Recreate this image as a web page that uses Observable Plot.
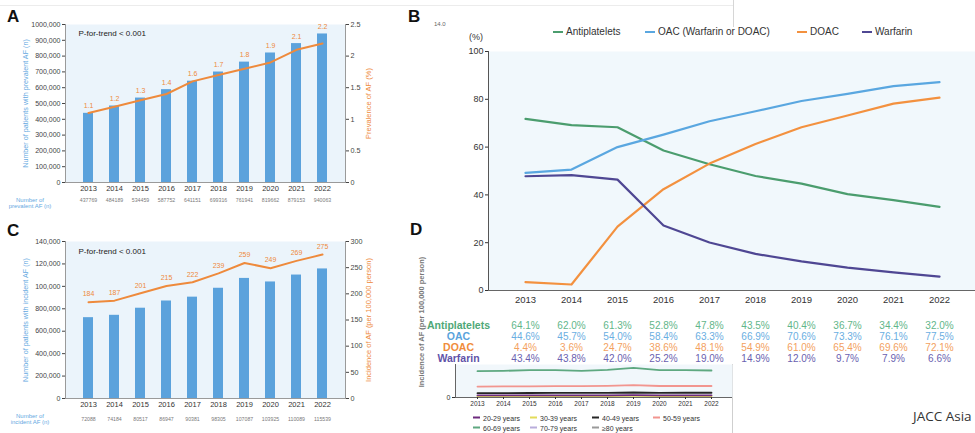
<!DOCTYPE html>
<html><head><meta charset="utf-8">
<script src="https://cdn.jsdelivr.net/npm/d3@7"></script>
<script src="https://cdn.jsdelivr.net/npm/@observablehq/plot@0.6"></script>
<style>
html,body{margin:0;padding:0;background:#fff;}
#root{position:relative;width:975px;height:433px;overflow:hidden;font-family:"Liberation Sans",Arial,Helvetica,sans-serif;background:#fff;}
#root svg{display:block;}
</style></head><body><div id="root"></div>
<script>
// ---------- data ----------
const years = ["2013","2014","2015","2016","2017","2018","2019","2020","2021","2022"];

// Panel A: prevalent AF
const prevalentCounts = [437769,484189,534459,587752,641151,699316,761941,819662,879153,940063];
const prevalencePct = [1.1,1.2,1.3,1.4,1.6,1.7,1.8,1.9,2.1,2.2];
const prevLeftTicks = [0,100000,200000,300000,400000,500000,600000,700000,800000,900000,1000000];
const prevLeftLabels = ["0","100,000","200,000","300,000","400,000","500,000","600,000","700,000","800,000","900,000","1000,000"];
const prevRightTicks = [0,0.5,1,1.5,2,2.5];
const prevRightLabels = ["0","0.5","1","1.5","2","2.5"];

// Panel C: incident AF
const incidentCounts = [72088,74184,80517,86947,90381,98305,107087,103925,110089,115539];
const incidenceRate = [184,187,201,215,222,239,259,249,263,275];
const incidenceLabels = ["184","187","201","215","222","239","259","249","269","275"];
const incLeftTicks = [0,20000,40000,60000,80000,100000,120000,140000];
const incLeftLabels = ["0","200,000","400,000","600,000","800,000","100,000","120,000","140,000"];
const incRightTicks = [0,50,100,150,200,250,300];
const incRightLabels = ["0","50","100","150","200","250","300"];

// Panel B: drug use (%)
const drugNames = ["Antiplatelets","OAC (Warfarin or DOAC)","DOAC","Warfarin"];
const antiplatelets = [71.8,69.2,68.3,58.6,52.8,47.9,44.7,40.3,37.8,35.0];
const oac = [49.2,50.6,60.0,65.2,70.8,75.0,79.3,82.3,85.5,87.2];
const doac = [3.5,2.5,26.7,42.4,53.1,61.3,68.3,73.2,78.2,80.7];
const warfarin = [47.8,48.3,46.4,27.2,20.1,15.3,12.2,9.6,7.6,5.8];
const drugColors = ["#4b9d6e","#5aa7e0","#f3913f","#4f4793"];

// Table under panel B
const tableRows = ["Antiplatelets","OAC","DOAC","Warfarin"];
const tAntiplatelets = ["64.1%","62.0%","61.3%","52.8%","47.8%","43.5%","40.4%","36.7%","34.4%","32.0%"];
const tOac = ["44.6%","45.7%","54.0%","58.4%","63.3%","66.9%","70.6%","73.3%","76.1%","77.5%"];
const tDoac = ["4.4%","3.6%","24.7%","38.6%","48.1%","54.9%","61.0%","65.4%","69.6%","72.1%"];
const tWarfarin = ["43.4%","43.8%","42.0%","25.2%","19.0%","14.9%","12.0%","9.7%","7.9%","6.6%"];
const tableLabelColors = ["#4fa877","#5aa3dc","#f08c3c","#6152a8"];
const tableValueColors = ["#62b68a","#6aaee2","#f3a160","#6a5fb0"];

// Panel D (partly hidden): incidence by age group
const ageGroups = ["20-29 years","30-39 years","40-49 years","50-59 years","60-69 years","70-79 years","≥80 years"];
const ageColors = ["#6e2b7e","#e3dc5a","#262626","#f2958f","#5ea880","#b9addb","#9a9a9a"];
const inc3039 = [22,22,23,23,23,24,25,24,24,24];
const inc2029 = [33,33,34,34,34,35,37,35,35,35];
const inc4049 = [70,70,72,73,74,75,80,75,76,76];
const inc5059 = [175,178,180,182,183,187,200,185,185,185];
const inc6069 = [423,428,439,439,428,444,476,439,439,434];

// ---------- helpers ----------
const FONT = '"Liberation Sans", Arial, Helvetica, sans-serif';
const root = document.getElementById("root");
const baseStyle = {background: "transparent", fontFamily: FONT, overflow: "visible"};
function place(node, left, top) {
  const d = document.createElement("div");
  d.style.cssText = `position:absolute;left:${left}px;top:${top}px;`;
  d.appendChild(node);
  root.appendChild(d);
  return d;
}
function htmlText(txt, left, top, css) {
  const d = document.createElement("div");
  d.textContent = txt;
  d.style.cssText = `position:absolute;white-space:nowrap;left:${left}px;top:${top}px;line-height:1;` + css;
  root.appendChild(d);
  return d;
}
function hline(left, top, width, color, thick = 1) {
  const d = document.createElement("div");
  d.style.cssText = `position:absolute;left:${left}px;top:${top}px;width:${width}px;height:${thick}px;background:${color};`;
  root.appendChild(d);
}
function vline(left, top, height, color) {
  const d = document.createElement("div");
  d.style.cssText = `position:absolute;left:${left}px;top:${top}px;width:1px;height:${height}px;background:${color};`;
  root.appendChild(d);
}
function legendItem(left, cy, color, label, fontSize, swW, gap, lw) {
  const d = document.createElement("div");
  d.style.cssText = `position:absolute;left:${left}px;top:${cy}px;transform:translateY(-50%);display:flex;align-items:center;white-space:nowrap;font-size:${fontSize}px;color:#333;line-height:1;`;
  const s = document.createElement("span");
  s.style.cssText = `display:inline-block;width:${swW}px;height:${lw}px;background:${color};margin-right:${gap}px;`;
  const t = document.createElement("span");
  t.textContent = label;
  d.appendChild(s); d.appendChild(t);
  root.appendChild(d);
}

const barBlue = "#5ba2dc", bgBlue = "#ebf4fb", orange = "#ee8a3c", axisGray = "#9a9a9a", tickGray = "#444", titleBlue = "#64a9df";

// ---------- decorative background lines ----------
hline(0, 5, 733, "#ececec");
vline(733, 0, 27, "#d6d6d6");
vline(732, 364, 69, "#cfcfcf");

// ---------- Panel D (behind) ----------
const dSeries = [
  {age: ageGroups[1], values: inc3039},
  {age: ageGroups[0], values: inc2029},
  {age: ageGroups[2], values: inc4049},
  {age: ageGroups[3], values: inc5059},
  {age: ageGroups[4], values: inc6069}
];
const dData = dSeries.flatMap(s => years.map((year, i) => ({age: s.age, year, v: s.values[i]})));
const ageColor = a => ageColors[ageGroups.indexOf(a)];
const plotD = Plot.plot({
  width: 332, height: 69, marginLeft: 55, marginRight: 0, marginTop: 0, marginBottom: 36,
  style: baseStyle,
  x: {type: "point", domain: years, padding: 0.72},
  y: {domain: [0, 530]},
  marks: [
    Plot.frame({fill: "#f1f7fb", stroke: null}),
    Plot.lineY(dData, {x: "year", y: "v", z: "age", stroke: d => ageColor(d.age), strokeWidth: 1.8}),
    Plot.frame({anchor: "left", stroke: "#666"}),
    Plot.ruleY([0], {stroke: "#666"}),
    Plot.axisY({ticks: [0], tickSize: 3, tickPadding: 2, fontSize: 7, color: "#333", label: null}),
    Plot.axisX({tickSize: 2, tickPadding: 2, fontSize: 6.5, color: "#333", label: null})
  ]
});
place(plotD, 400, 364);

// Panel D legend
const dLegendPos = [[473,417.5],[530,417.5],[592,417.5],[653,417.5],[473,427.7],[530,427.7],[592,427.7]];
ageGroups.forEach((a, i) => legendItem(dLegendPos[i][0], dLegendPos[i][1], ageColors[i], a, 7, 7, 3, 2));

// Panel D rotated y title (mostly hidden in the original)
const dTitle = htmlText("Incidence of AF (per 100,000 person)", 421.7 - 80, 322 - 5,
  "width:160px;height:10px;text-align:center;font-size:7.5px;font-weight:bold;color:#777;transform:rotate(-90deg);transform-origin:50% 50%;line-height:10px;");
htmlText("D", 410, 221, "font-size:17px;font-weight:bold;color:#111;");

// ---------- Panel B ----------
const drugValues = [antiplatelets, oac, doac, warfarin];
const bData = drugNames.flatMap((name, k) => years.map((year, i) => ({drug: name, year, v: drugValues[k][i]})));
const drugColor = n => drugColors[drugNames.indexOf(n)];
const plotB = Plot.plot({
  width: 575, height: 310, marginLeft: 88, marginRight: 0, marginTop: 51, marginBottom: 20,
  style: baseStyle,
  x: {type: "point", domain: years, padding: 0.69},
  y: {domain: [0, 100]},
  marks: [
    Plot.frame({fill: "#f1f8fc", stroke: null}),
    Plot.lineY(bData, {x: "year", y: "v", z: "drug", stroke: d => drugColor(d.drug), strokeWidth: 2.2}),
    Plot.frame({anchor: "left", stroke: "#555"}),
    Plot.ruleY([0], {stroke: "#666"}),
    Plot.axisY({ticks: [0,20,40,60,80,100], tickSize: 3, tickPadding: 2, fontSize: 9, color: "#333", label: null}),
    Plot.axisX({tickSize: 0, tickPadding: 6, fontSize: 9.5, color: "#333", label: null})
  ]
});
place(plotB, 400, 0);
htmlText("B", 408, 8, "font-size:17px;font-weight:bold;color:#111;");
htmlText("14.0", 434, 21, "font-size:6px;color:#666;");
htmlText("(%)", 469, 33, "font-size:9px;color:#333;");
const bLegendX = [553, 645, 797, 862];
drugNames.forEach((n, i) => legendItem(bLegendX[i], 31.7, drugColors[i], n, 10, 10, 3, 2));

// ---------- Table under panel B ----------
const tableVals = [tAntiplatelets, tOac, tDoac, tWarfarin];
const tData = tableRows.flatMap((r, k) => years.map((year, i) => ({row: r, year, label: tableVals[k][i]})));
const plotT = Plot.plot({
  width: 575, height: 52, marginLeft: 88, marginRight: 0, marginTop: 4, marginBottom: 0,
  style: baseStyle,
  x: {type: "point", domain: years, padding: 0.69, axis: null},
  y: {type: "band", domain: tableRows, axis: null},
  marks: [
    Plot.text(tData, {x: "year", y: "row", text: "label", fill: d => tableValueColors[tableRows.indexOf(d.row)], fontSize: 10}),
    Plot.text(tableRows, {y: d => d, frameAnchor: "left", dx: -30, textAnchor: "middle", text: d => d,
      fill: d => tableLabelColors[tableRows.indexOf(d)], fontSize: 10.5, fontWeight: "bold"})
  ]
});
place(plotT, 400, 313);

// ---------- Panel A ----------
const prevData = years.map((year, i) => ({year, count: prevalentCounts[i], pct: prevalencePct[i]}));
const kA = 1000000 / 2.5;
const plotA = Plot.plot({
  width: 380, height: 210, marginLeft: 65, marginRight: 35, marginTop: 24, marginBottom: 28,
  style: baseStyle,
  x: {type: "band", domain: years, paddingInner: 0.63, paddingOuter: 0.6},
  y: {domain: [0, 1000000]},
  marks: [
    Plot.frame({fill: bgBlue, stroke: null}),
    Plot.barY(prevData, {x: "year", y: "count", fill: barBlue}),
    Plot.lineY(prevData, {x: "year", y: d => d.pct * kA, stroke: orange, strokeWidth: 2}),
    Plot.text(prevData, {x: "year", y: d => Math.max(d.count, d.pct * kA), text: d => d.pct.toFixed(1), dy: -7, fill: orange, fontSize: 7}),
    Plot.frame({anchor: "left", stroke: axisGray}),
    Plot.frame({anchor: "right", stroke: axisGray}),
    Plot.ruleY([0], {stroke: axisGray}),
    Plot.axisY({anchor: "left", ticks: prevLeftTicks, tickFormat: d => prevLeftLabels[prevLeftTicks.indexOf(d)], tickSize: 3, tickPadding: 2, fontSize: 7, color: tickGray, label: null}),
    Plot.axisY({anchor: "right", ticks: prevRightTicks.map(v => v * kA), tickFormat: d => prevRightLabels[prevRightTicks.findIndex(v => Math.abs(v * kA - d) < 1)], tickSize: 3, tickPadding: 2, fontSize: 7.2, color: tickGray, label: null}),
    Plot.axisX({tickSize: 0, tickPadding: 3, fontSize: 7.5, color: "#333", label: null}),
    Plot.axisX({tickSize: 0, tickPadding: 16, fontSize: 5.2, color: "#7a7a7a", tickFormat: d => String(prevalentCounts[years.indexOf(d)]), label: null}),
    Plot.text(["P-for-trend < 0.001"], {frameAnchor: "top-left", dx: 13, dy: 9, lineAnchor: "middle", textAnchor: "start", text: d => d, fontSize: 8, fill: "#222"}),
    Plot.text(["Number of patients with prevalent AF (n)"], {frameAnchor: "left", rotate: -90, dx: -40, textAnchor: "middle", lineAnchor: "middle", text: d => d, fontSize: 7.2, fill: titleBlue}),
    Plot.text(["Prevalence of AF (%)"], {frameAnchor: "right", rotate: -90, dx: 23, textAnchor: "middle", lineAnchor: "middle", text: d => d, fontSize: 7.5, fill: orange})
  ]
});
place(plotA, 0, 0);
htmlText("A", 7, 8, "font-size:17px;font-weight:bold;color:#111;");
htmlText("Number of", 30 - 30, 197, "width:60px;text-align:center;font-size:6px;color:" + titleBlue + ";");
htmlText("prevalent AF (n)", 30 - 30, 203, "width:60px;text-align:center;font-size:6px;color:" + titleBlue + ";");

// ---------- Panel C ----------
const incData = years.map((year, i) => ({year, count: incidentCounts[i], rate: incidenceRate[i], label: incidenceLabels[i]}));
const kC = 140000 / 300;
const plotC = Plot.plot({
  width: 380, height: 223, marginLeft: 65, marginRight: 35, marginTop: 31, marginBottom: 35,
  style: baseStyle,
  x: {type: "band", domain: years, paddingInner: 0.63, paddingOuter: 0.6},
  y: {domain: [0, 140000]},
  marks: [
    Plot.frame({fill: bgBlue, stroke: null}),
    Plot.barY(incData, {x: "year", y: "count", fill: barBlue}),
    Plot.lineY(incData, {x: "year", y: d => d.rate * kC, stroke: orange, strokeWidth: 2}),
    Plot.text(incData, {x: "year", y: d => d.rate * kC, text: "label", dy: -8, fill: orange, fontSize: 7}),
    Plot.frame({anchor: "left", stroke: axisGray}),
    Plot.frame({anchor: "right", stroke: axisGray}),
    Plot.ruleY([0], {stroke: axisGray}),
    Plot.axisY({anchor: "left", ticks: incLeftTicks, tickFormat: d => incLeftLabels[incLeftTicks.indexOf(d)], tickSize: 3, tickPadding: 2, fontSize: 7, color: tickGray, label: null}),
    Plot.axisY({anchor: "right", ticks: incRightTicks.map(v => v * kC), tickFormat: d => incRightLabels[incRightTicks.findIndex(v => Math.abs(v * kC - d) < 1)], tickSize: 3, tickPadding: 2, fontSize: 7.2, color: tickGray, label: null}),
    Plot.axisX({tickSize: 0, tickPadding: 3, fontSize: 7.5, color: "#333", label: null}),
    Plot.axisX({tickSize: 0, tickPadding: 19, fontSize: 5.2, color: "#7a7a7a", tickFormat: d => String(incidentCounts[years.indexOf(d)]), label: null}),
    Plot.text(["P-for-trend < 0.001"], {frameAnchor: "top-left", dx: 13, dy: 10, lineAnchor: "middle", textAnchor: "start", text: d => d, fontSize: 8, fill: "#222"}),
    Plot.text(["Number of patients with incident AF (n)"], {frameAnchor: "left", rotate: -90, dx: -40, textAnchor: "middle", lineAnchor: "middle", text: d => d, fontSize: 7.2, fill: titleBlue}),
    Plot.text(["Incidence of AF (per 100,000 person)"], {frameAnchor: "right", rotate: -90, dx: 23, textAnchor: "middle", lineAnchor: "middle", text: d => d, fontSize: 7.5, fill: orange})
  ]
});
place(plotC, 0, 210);
htmlText("C", 7, 222, "font-size:17px;font-weight:bold;color:#111;");
htmlText("Number of", 0, 412.5, "width:60px;text-align:center;font-size:6px;color:" + titleBlue + ";");
htmlText("incident AF (n)", 0, 418.5, "width:60px;text-align:center;font-size:6px;color:" + titleBlue + ";");

// ---------- footer ----------
htmlText("JACC Asia", 913, 410, 'font-family:"Open Sans",sans-serif;font-size:13.5px;color:#333;');
</script>
</body></html>
